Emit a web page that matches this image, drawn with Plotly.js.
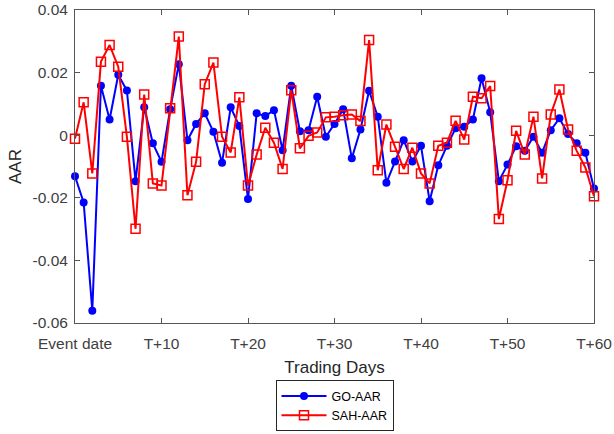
<!DOCTYPE html>
<html>
<head>
<meta charset="utf-8">
<script src="https://cdn.plot.ly/plotly-3.0.1.min.js"></script>
<style>html,body{margin:0;padding:0;background:#fff;}#chart{width:614px;height:434px;}</style>
</head>
<body>
<div id="chart"></div>
<script>
var days = [];
for (var i = 0; i <= 60; i++) days.push(i);

var goAAR = [
  -0.0131, -0.0215, -0.0561, 0.0158, 0.0050, 0.0193, 0.0143, -0.0147, 0.0089, -0.0026,
  -0.0085, 0.0083, 0.0227, -0.0016, 0.0036, 0.0070, 0.0011, -0.0088, 0.0089, 0.0029,
  -0.0204, 0.0070, 0.0061, 0.0080, -0.0048, 0.0158, 0.0013, 0.0016, 0.0123, -0.0005,
  0.0036, 0.0083, -0.0074, 0.0018, 0.0142, 0.0059, -0.0152, -0.0084, -0.0016, -0.0084,
  -0.0034, -0.0211, -0.0096, -0.0034, 0.0022, 0.0027, 0.0050, 0.0182, 0.0073, -0.0147,
  -0.0094, -0.0035, -0.0050, -0.0005, -0.0056, 0.0016, 0.0054, 0.0004, -0.0026, -0.0056,
  -0.0170
];

var sahAAR = [
  -0.0011, 0.0105, -0.0122, 0.0235, 0.0288, 0.0219, -0.0005, -0.0299, 0.0130, -0.0154,
  -0.0161, 0.0086, 0.0315, -0.0192, -0.0085, 0.0163, 0.0232, -0.0005, -0.0055, 0.0121,
  -0.0161, -0.0062, 0.0024, -0.0024, -0.0108, 0.0144, -0.0042, -0.0002, 0.0009, 0.0057,
  0.0059, 0.0064, 0.0066, 0.0045, 0.0304, -0.0112, 0.0034, -0.0037, -0.0108, -0.0040,
  -0.0122, -0.0154, -0.0034, -0.0024, 0.0046, -0.0014, 0.0123, 0.0118, 0.0157, -0.0268,
  -0.0144, 0.0014, -0.0062, 0.0059, -0.0138, 0.0066, 0.0146, 0.0018, -0.0050, -0.0103,
  -0.0195
];

var xTickVals = [0, 10, 20, 30, 40, 50, 60];
var xTickText = ['Event date', 'T+10', 'T+20', 'T+30', 'T+40', 'T+50', 'T+60'];
var yTickVals = [0.04, 0.02, 0, -0.02, -0.04, -0.06];
var yTickText = ['0.04', '0.02', '0', '-0.02', '-0.04', '-0.06'];

var traces = [
  {
    x: days, y: goAAR, name: 'GO-AAR', type: 'scatter', mode: 'lines+markers',
    line: {color: '#0000ff', width: 2},
    marker: {symbol: 'circle', size: 8, color: '#0000ff'},
    cliponaxis: false
  },
  {
    x: days, y: sahAAR, name: 'SAH-AAR', type: 'scatter', mode: 'lines+markers',
    line: {color: '#ff0000', width: 2},
    marker: {symbol: 'square-open', size: 9, color: '#ff0000', line: {width: 1.5, color: '#ff0000'}},
    cliponaxis: false
  }
];

var tickFont = {family: 'Liberation Sans, Arial, sans-serif', size: 15.5, color: '#404040'};
var axisCommon = {
  showline: true, linecolor: '#555555', linewidth: 1, mirror: 'ticks',
  ticks: 'inside', ticklen: 5, tickcolor: '#555555', showgrid: false, zeroline: false,
  tickfont: tickFont, automargin: false
};

var layout = {
  width: 614, height: 434,
  margin: {l: 75, r: 20, t: 10, b: 111},
  paper_bgcolor: '#ffffff', plot_bgcolor: '#ffffff',
  showlegend: true,
  font: {family: 'Liberation Sans, Arial, sans-serif', color: '#262626'},
  xaxis: Object.assign({}, axisCommon, {
    range: [0, 60], tickvals: xTickVals, ticktext: xTickText, ticklabelstandoff: 6,
    title: {text: 'Trading Days', font: {size: 17, color: '#262626'}, standoff: 10}
  }),
  yaxis: Object.assign({}, axisCommon, {
    range: [-0.06, 0.04], tickvals: yTickVals, ticktext: yTickText, ticklabelstandoff: 3,
    title: {text: 'AAR', font: {size: 17, color: '#262626'}, standoff: 6}
  }),
  legend: {
    xref: 'paper', x: 0.5, xanchor: 'center',
    yref: 'container', y: 0.006, yanchor: 'bottom',
    bordercolor: '#262626', borderwidth: 1, bgcolor: '#ffffff',
    font: {size: 12.5, color: '#000000'},
    tracegroupgap: 0, itemwidth: 45
  }
};

Plotly.newPlot('chart', traces, layout, {displayModeBar: false, staticPlot: true});
</script>
</body>
</html>
